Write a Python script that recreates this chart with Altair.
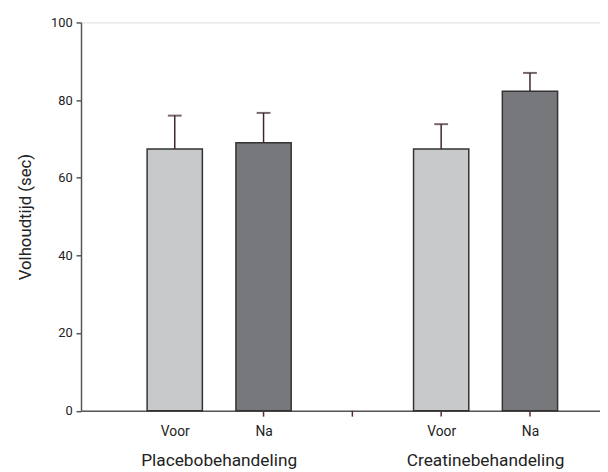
import altair as alt
import pandas as pd

groups = ["Placebobehandeling", "Placebobehandeling", "Creatinebehandeling", "Creatinebehandeling"]
moments = ["Voor", "Na", "Voor", "Na"]
positions = [1, 2, 4, 5]
means = [67.4, 69.0, 67.4, 82.3]
errors = [8.6, 7.7, 6.4, 4.7]
colors = ["#c8c9cb", "#77787c", "#c8c9cb", "#77787c"]

group_names = ["Placebobehandeling", "Creatinebehandeling"]
group_centers = [1.5, 4.5]
tick_positions = [2, 3, 4, 5]

df = pd.DataFrame({
    "group": groups, "moment": moments, "pos": positions,
    "mean": means, "err": errors, "color": colors,
})
df["upper"] = df["mean"] + df["err"]
gdf = pd.DataFrame({"name": group_names, "pos": group_centers})
tdf = pd.DataFrame({"pos": tick_positions, "zero": [0] * len(tick_positions)})

FONT = "Roboto"
xscale = alt.Scale(domain=[0, 5.733], nice=False, zero=False)
yscale = alt.Scale(domain=[0, 100], nice=False)

xaxis = alt.Axis(
    values=positions,
    labelExpr="datum.value == 1 || datum.value == 4 ? 'Voor' : 'Na'",
    title=None, grid=False, ticks=False, domainColor="#555555", domainWidth=1.5,
    labelFont=FONT, labelFontSize=14, labelColor="#222222", labelPadding=14,
)
yaxis = alt.Axis(
    values=[0, 20, 40, 60, 80, 100], title="Volhoudtijd (sec)", grid=False, tickSize=5,
    domainColor="#555555", domainWidth=1.5, tickColor="#555555", tickWidth=1.5,
    labelFont=FONT, labelFontSize=13, labelColor="#222222", labelPadding=4,
    titleFont=FONT, titleFontSize=17, titleFontWeight="normal", titleColor="#222222",
    titlePadding=16,
)

base = alt.Chart(df)
bars = base.mark_bar(size=56, stroke="#333333", strokeWidth=1.5).encode(
    x=alt.X("pos:Q", scale=xscale, axis=xaxis),
    y=alt.Y("mean:Q", scale=yscale, axis=yaxis),
    color=alt.Color("color:N", scale=None),
)
xticks = alt.Chart(tdf).mark_rule(color="#5a2a3a", strokeWidth=1.5).encode(
    x="pos:Q", y="zero:Q", y2=alt.value(399.5),
)
err_lines = base.mark_rule(color="#3d2530", strokeWidth=1.5).encode(
    x="pos:Q", y="mean:Q", y2="upper:Q",
)
caps = base.mark_tick(color="#3d2530", orient="horizontal", size=14, thickness=2).encode(
    x="pos:Q", y="upper:Q",
)
glabels = alt.Chart(gdf).mark_text(font=FONT, fontSize=17.5, color="#222222", baseline="middle").encode(
    x="pos:Q", text="name:N", y=alt.value(445),
)

chart = alt.layer(bars, xticks, err_lines, caps, glabels).properties(
    width=526, height=393.5,
    autosize=alt.AutoSizeParams(type="none"),
    padding={"left": 74, "right": 0, "top": 11.5, "bottom": 59},
).configure_view(stroke=None).configure(background="white")

chart.save("out.html", embed_options={"renderer": "svg", "actions": False})
